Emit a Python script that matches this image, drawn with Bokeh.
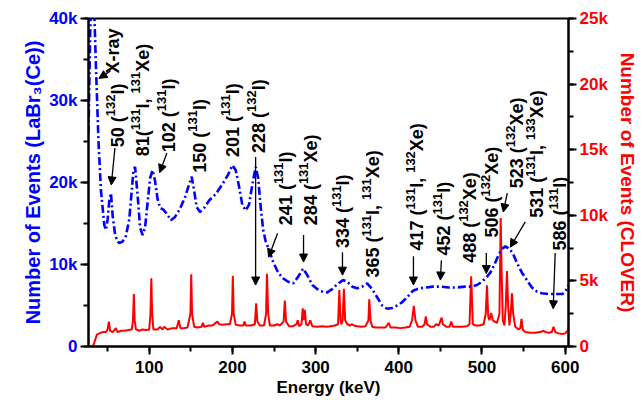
import math
import re

from bokeh.core.properties import value
from bokeh.embed import file_html
from bokeh.models import (Arrow, ColumnDataSource, FixedTicker, LinearAxis,
                          NormalHead, Range1d)
from bokeh.plotting import figure
from bokeh.resources import INLINE

# ---------------------------------------------------------------- data
# LaBr3(Ce) spectrum (left axis): energy in keV, number of events
labr_energy = [27, 29, 31, 33, 36, 39, 42, 46, 48, 50, 52, 54, 56, 59, 62, 64, 68, 72,
               76, 79, 81, 83, 86, 89, 92, 95, 98, 101, 104, 107, 110, 113, 117, 121,
               126, 131, 137, 143, 148, 151, 154, 157, 161, 166, 172, 180, 188, 195,
               200, 204, 208, 212, 216, 220, 224, 228, 231, 234, 237, 240, 244, 249,
               255, 261, 267, 273, 279, 285, 290, 296, 302, 308, 314, 320, 326, 333,
               338, 344, 350, 356, 362, 368, 374, 380, 386, 392, 398, 404, 410, 417,
               425, 433, 441, 450, 460, 470, 480, 488, 494, 500, 505, 510, 515, 520,
               525, 528, 532, 537, 542, 548, 554, 560, 566, 572, 580, 590, 597, 602, 604]
labr_counts = [26000, 38000, 46000, 44000, 34000, 25000, 19000, 14800, 14200, 15500,
               17800, 18700, 16000, 13600, 12800, 12600, 12800, 13500, 15500, 19000,
               21500, 21900, 18500, 14500, 13600, 14500, 17500, 20500, 21500, 20200,
               18000, 16900, 16700, 16200, 15400, 15800, 16800, 18200, 19800, 20700,
               19000, 17000, 16400, 16900, 17800, 18600, 19800, 21000, 22100, 21500,
               19500, 17200, 16600, 17300, 19800, 21900, 20500, 17000, 14200, 12800,
               11800, 10300, 9000, 8300, 7900, 7700, 8500, 9500, 8700, 7500, 7000, 6700,
               6600, 7000, 7600, 8100, 7900, 7300, 7100, 7300, 7700, 7000, 6000, 5000,
               4600, 4700, 5000, 5400, 6000, 6800, 7100, 7200, 7300, 7300, 7200, 7200,
               7300, 7300, 7500, 7900, 8400, 9000, 10000, 11200, 12000, 12200, 12000,
               11400, 10200, 9000, 8100, 7200, 6700, 6500, 6400, 6400, 6400, 7000, 7500]

# CLOVER spectrum (right axis): energy in keV, number of events
clover_energy = [27, 32, 34, 37, 40, 44, 48, 50, 51.5, 53, 56, 60, 62, 66, 70, 75, 79,
                 80.5, 81.5, 82.5, 84, 88, 92, 96, 100, 101.5, 102.5, 103.5, 105, 110,
                 113, 116, 118, 122, 128, 133, 135.5, 137.5, 142, 146, 149.5, 150.5,
                 151.5, 154, 158, 163, 164.5, 166, 172, 176, 180, 182, 184, 188, 193,
                 197, 199.5, 200.5, 201.5, 204, 209, 213, 214.5, 216, 222, 227, 228.5,
                 230, 233, 238, 240.5, 241.5, 243, 245, 250, 254, 257, 261.5, 263,
                 264.5, 268, 273, 277, 278.5, 280, 283, 284.5, 286, 287, 288.5, 291,
                 293.5, 296, 302, 308, 313, 318, 323, 327, 328.5, 330, 331, 332.5, 334,
                 335.5, 338, 341, 344, 346, 350, 355, 360, 363.5, 364.5, 366, 368, 372,
                 378, 384, 388, 390, 396, 402, 408, 413, 416, 418, 420, 423, 428, 431,
                 432.5, 434, 438, 442, 445, 448, 451.5, 453, 457, 461, 463, 465, 470,
                 476, 482, 485, 487, 489, 492, 497, 502, 504.5, 506, 507.5, 509, 511,
                 513, 515, 518, 521, 522.5, 523.5, 525, 527, 528.5, 530, 531.5, 533,
                 534.5, 536, 537.5, 540, 544, 546, 547.5, 549, 552, 558, 564, 570, 574,
                 576, 580, 584, 586, 588, 592, 596, 600, 603, 604]
clover_counts = [0, 0, 300, 900, 1000, 1100, 1100, 1300, 1900, 1200, 1100, 1400, 1100,
                 1200, 1200, 1250, 1300, 2000, 4000, 2000, 1300, 1200, 1300, 1250, 1300,
                 2500, 5200, 2500, 1300, 1300, 1500, 1300, 1500, 1300, 1400, 1400, 2000,
                 1400, 1400, 1450, 2500, 5500, 2500, 1500, 1450, 1500, 1800, 1500, 1600,
                 1600, 1800, 1900, 1700, 1650, 1700, 1700, 2500, 5400, 2500, 1650, 1600,
                 1600, 1900, 1600, 1600, 1700, 3300, 1900, 1600, 1600, 2500, 5550, 2500,
                 1600, 1600, 1700, 1600, 1900, 3500, 1900, 1550, 1550, 1700, 2000, 1550,
                 1700, 2900, 2000, 2800, 1700, 1600, 2000, 1550, 1500, 1550, 1500, 1550,
                 1600, 1700, 4300, 2000, 1700, 2000, 4400, 2000, 1700, 1600, 1700, 1600,
                 1550, 1500, 1550, 2000, 3600, 2000, 1500, 1450, 1450, 1450, 1800, 1450,
                 1450, 1400, 1450, 1500, 2000, 3100, 2000, 1500, 1500, 1700, 2300, 1700,
                 1500, 1500, 1700, 1600, 2200, 1700, 1500, 1500, 1900, 1500, 1500, 1500,
                 1550, 1700, 5350, 1700, 1600, 1600, 1700, 2500, 4660, 2300, 2000, 2550,
                 2000, 1900, 1800, 2500, 9800, 6000, 2000, 1600, 3000, 5760, 3000, 1600,
                 2500, 4050, 2500, 1500, 1300, 1400, 2100, 1300, 1100, 1050, 1050, 1100,
                 1200, 1100, 1050, 1100, 1500, 1100, 1000, 950, 1000, 1200, 1500]

# peak annotations; ^{...} marks a superscript mass number
peak_labels = ["X-ray", "50 (^{132}I)", "81(^{131}I, ^{131}Xe)", "102 (^{131}I)",
               "150 (^{131}I)", "201 (^{131}I)", "228 (^{132}I)", "241 (^{131}I)",
               "284 (^{131}Xe)", "334 (^{131}I)", "365 (^{131}I, ^{131}Xe)",
               "417 (^{131}I, ^{132}Xe)", "452 (^{131}I)", "488 (^{132}Xe)",
               "506 (^{132}Xe)", "523 (^{132}Xe)", "531 (^{131}I, ^{133}Xe)",
               "586 (^{131}I)"]
# baseline position (energy) and start (LaBr3 counts) of each rotated label
label_x = [56.2, 62.2, 92.2, 123.4, 160.7, 200.3, 231.5, 263.9, 293.9, 333.5, 369.5,
           422.4, 454.8, 486.0, 512.4, 542.4, 566.4, 594.0]
label_y = [33300, 24300, 23200, 23700, 21200, 23100, 23600, 14800, 14800, 12000, 8400,
           11700, 11100, 10200, 13300, 19300, 15700, 11700]

# arrows from labels down to the peaks (energy, LaBr3 counts)
arrow_x0 = [53.5, 58.8, 121.2, 227.9, 254.3, 285.5, 332.3, 417.6, 451.2, 505.2, 530.4, 552.0, 588.0]
arrow_y0 = [33600, 24200, 23600, 23100, 13800, 13600, 11500, 11000, 10500, 11400, 18700, 15200, 11400]
arrow_x1 = [39.5, 54.4, 112.6, 227.9, 243.5, 285.5, 332.3, 417.6, 450.0, 505.2, 525.6, 534.0, 585.6]
arrow_y1 = [32700, 19700, 21200, 7500, 10900, 10300, 8700, 7500, 8100, 8900, 16400, 12100, 4600]

# ---------------------------------------------------------------- styles
FONT = "Liberation Sans"
BLUE = "#0000ff"
RED = "#ff0000"
MAIN_PX = 18      # label font size
SUP_PX = 13       # superscript font size
SUP_RISE = 7      # superscript raise, px

# advance widths of Liberation Sans Bold (Arial Bold metrics), per 1000 em
ADVANCE = {c: 556 for c in "0123456789"}
ADVANCE.update({" ": 278, "(": 333, ")": 333, ",": 278, "I": 278, "X": 667,
                "e": 556, "-": 333, "r": 389, "a": 556, "y": 556})


def text_width(s, size):
    return sum(ADVANCE.get(c, 556) for c in s) * size / 1000.0


# split every label into normal and superscript runs laid out along the text
runs = {False: dict(x=[], y=[], text=[], dy=[]), True: dict(x=[], y=[], text=[], dy=[])}
for lab, lx, ly in zip(peak_labels, label_x, label_y):
    pos = 0.0
    for part in re.split(r"(\^\{[^}]*\})", lab):
        if not part:
            continue
        sup = part.startswith("^{")
        txt = part[2:-1] if sup else part
        r = runs[sup]
        r["x"].append(lx)
        r["y"].append(ly)
        r["text"].append(txt)
        r["dy"].append(-pos)
        pos += text_width(txt, SUP_PX if sup else MAIN_PX)

p = figure(width=644, height=400,
           x_range=Range1d(27, 604), y_range=Range1d(0, 40000),
           output_backend="svg", toolbar_location=None,
           min_border_left=88, min_border_right=76,
           min_border_top=18, min_border_bottom=54)
p.extra_y_ranges = {"clover": Range1d(0, 25000)}

p.grid.visible = False
p.outline_line_color = "black"
p.outline_line_width = 2
p.background_fill_color = "white"
p.border_fill_color = "white"

# spectra
p.line(clover_energy, clover_counts, y_range_name="clover",
       line_color=RED, line_width=2)
p.line(labr_energy, labr_counts, line_color=BLUE, line_width=2.6,
       line_dash="8 3 2 3")

# rotated peak labels (reading upwards)
p.text(x="x", y="y", text="text", y_offset="dy", source=ColumnDataSource(runs[False]),
       angle=math.pi / 2, text_align="left", text_baseline="alphabetic",
       text_font=value(FONT), text_font_style="bold",
       text_font_size=f"{MAIN_PX}px", text_color="black")
p.text(x="x", y="y", text="text", y_offset="dy", x_offset=-SUP_RISE,
       source=ColumnDataSource(runs[True]),
       angle=math.pi / 2, text_align="left", text_baseline="alphabetic",
       text_font=value(FONT), text_font_style="bold",
       text_font_size=f"{SUP_PX}px", text_color="black")

arrows = ColumnDataSource(dict(x0=arrow_x0, y0=arrow_y0, x1=arrow_x1, y1=arrow_y1))
p.add_layout(Arrow(source=arrows, x_start="x0", y_start="y0", x_end="x1", y_end="y1",
                   line_color="black", line_width=1.3,
                   end=NormalHead(size=8, line_color="black", fill_color="black",
                                  line_width=1)))


def style_axis(ax, color, label, title_px):
    ax.axis_label = label
    ax.axis_label_text_font = FONT
    ax.axis_label_text_font_style = "bold"
    ax.axis_label_text_font_size = f"{title_px}px"
    ax.axis_label_text_color = color
    ax.major_label_text_font = FONT
    ax.major_label_text_font_style = "bold"
    ax.major_label_text_font_size = "17px"
    ax.major_label_text_color = color
    ax.axis_line_color = "black"
    ax.axis_line_width = 2
    ax.major_tick_line_color = "black"
    ax.major_tick_line_width = 2
    ax.minor_tick_line_color = "black"
    ax.minor_tick_line_width = 2
    ax.major_tick_in = 0
    ax.major_tick_out = 8
    ax.minor_tick_in = 0
    ax.minor_tick_out = 5


# bottom axis
xa = p.xaxis[0]
xa.ticker = FixedTicker(ticks=[100, 200, 300, 400, 500, 600],
                        minor_ticks=[50, 100, 150, 200, 250, 300, 350, 400, 450, 500, 550, 600])
style_axis(xa, "black", "Energy (keV)", 17)
xa.major_label_standoff = 6
xa.axis_label_standoff = 2

# left axis (LaBr3)
ya = p.yaxis[0]
ya.ticker = FixedTicker(ticks=[0, 10000, 20000, 30000, 40000],
                        minor_ticks=[0, 5000, 10000, 15000, 20000, 25000, 30000, 35000, 40000])
ya.major_label_overrides = {0: "0", 10000: "10k", 20000: "20k", 30000: "30k", 40000: "40k"}
style_axis(ya, BLUE, "Number of Events (LaBr\u2083(Ce))", 20)
ya.major_label_standoff = 3
ya.axis_label_standoff = 2

# right axis (CLOVER)
yr = LinearAxis(y_range_name="clover")
yr.ticker = FixedTicker(ticks=[0, 5000, 10000, 15000, 20000, 25000],
                        minor_ticks=[0, 2500, 5000, 7500, 10000, 12500, 15000, 17500,
                                     20000, 22500, 25000])
yr.major_label_overrides = {0: "0", 5000: "5k", 10000: "10k", 15000: "15k",
                            20000: "20k", 25000: "25k"}
style_axis(yr, RED, "Number of Events (CLOVER)", 19)
yr.major_label_standoff = 3
yr.axis_label_standoff = 6
p.add_layout(yr, "right")

open("out.html", "w").write(file_html(p, INLINE))
